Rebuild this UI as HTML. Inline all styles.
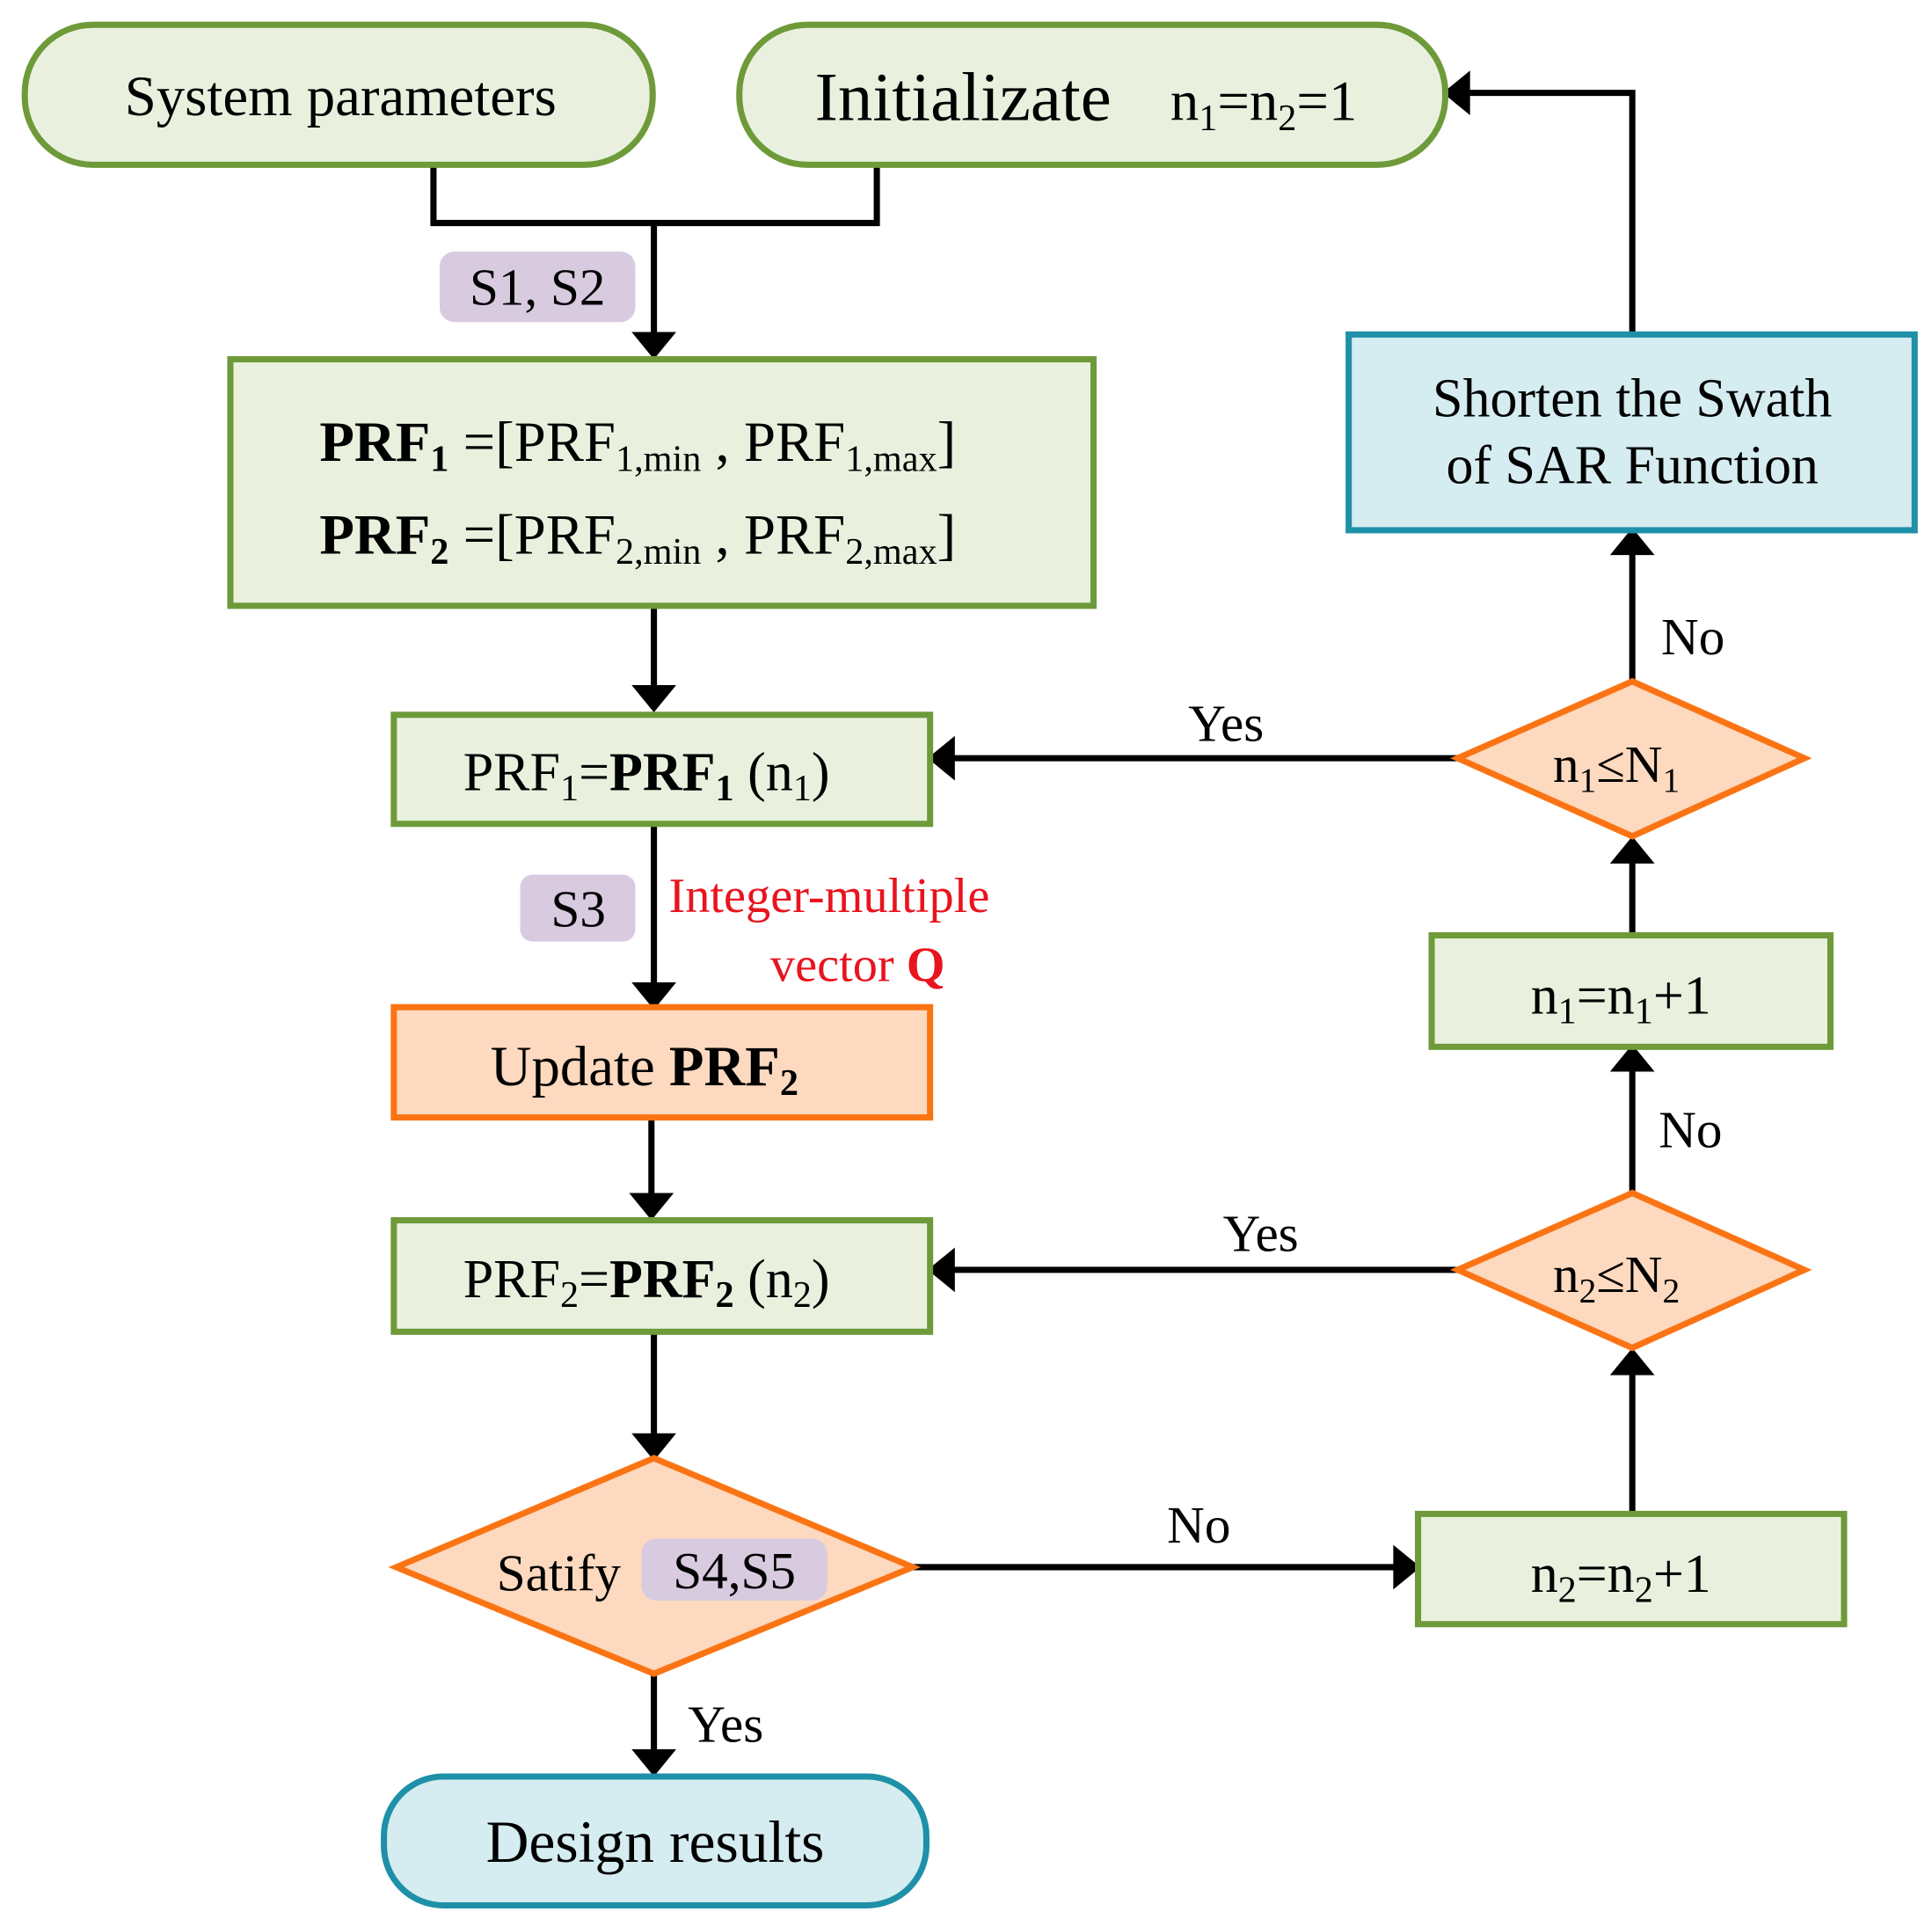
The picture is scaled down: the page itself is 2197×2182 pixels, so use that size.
<!DOCTYPE html>
<html><head><meta charset="utf-8"><style>
html,body{margin:0;padding:0;background:#fff}
svg{display:block}
text{font-family:"Liberation Serif","Times New Roman",serif;fill:#000}
</style></head><body>
<svg width="2197" height="2182" viewBox="0 0 1560 1549" preserveAspectRatio="none" xmlns="http://www.w3.org/2000/svg">
<g stroke="#000" stroke-width="5" fill="none">
<polyline points="350,133 350,180 708,180 708,133"/>
<line x1="528" y1="180" x2="528" y2="270"/>
<line x1="528" y1="489" x2="528" y2="555"/>
<line x1="528" y1="665" x2="528" y2="795"/>
<line x1="526" y1="902" x2="526" y2="965"/>
<line x1="528" y1="1075" x2="528" y2="1159"/>
<line x1="528" y1="1351" x2="528" y2="1414"/>
<line x1="737" y1="1265" x2="1127" y2="1265"/>
<line x1="1318" y1="1222" x2="1318" y2="1108"/>
<line x1="1177" y1="1025" x2="769" y2="1025"/>
<line x1="1318" y1="963" x2="1318" y2="863"/>
<line x1="1318" y1="755" x2="1318" y2="695"/>
<line x1="1177" y1="612" x2="769" y2="612"/>
<line x1="1318" y1="550" x2="1318" y2="446"/>
<polyline points="1318,270 1318,75 1185,75"/>
</g>
<g fill="#000">
<polygon points="510,268 546,268 528,290"/>
<polygon points="510,553 546,553 528,575"/>
<polygon points="510,793 546,793 528,815"/>
<polygon points="508,963 544,963 526,985"/>
<polygon points="510,1157 546,1157 528,1179"/>
<polygon points="510,1412 546,1412 528,1434"/>
<polygon points="1125,1247 1125,1283 1147,1265"/>
<polygon points="1300,1110 1336,1110 1318,1088"/>
<polygon points="771,1007 771,1043 749,1025"/>
<polygon points="1300,865 1336,865 1318,843"/>
<polygon points="1300,697 1336,697 1318,675"/>
<polygon points="771,594 771,630 749,612"/>
<polygon points="1300,448 1336,448 1318,426"/>
<polygon points="1187,57 1187,93 1165,75"/>
</g>
<g stroke-width="5">
<rect x="20" y="20" width="507" height="113" rx="55" fill="#e9f1de" stroke="#6e9a3a"/>
<rect x="597" y="20" width="570" height="113" rx="55" fill="#e9f1de" stroke="#6e9a3a"/>
<rect x="186" y="290" width="697" height="199" fill="#e9f1de" stroke="#6e9a3a"/>
<rect x="318" y="577" width="433" height="88" fill="#e9f1de" stroke="#6e9a3a"/>
<rect x="318" y="813" width="433" height="89" fill="#fdd9bf" stroke="#fb7414"/>
<rect x="318" y="985" width="433" height="90" fill="#e9f1de" stroke="#6e9a3a"/>
<polygon points="320,1265 528,1177 737,1265 528,1351" fill="#fdd9bf" stroke="#fb7414"/>
<rect x="310" y="1434" width="438" height="104" rx="48" fill="#d5ecf0" stroke="#1e90a8"/>
<rect x="1145" y="1222" width="344" height="89" fill="#e9f1de" stroke="#6e9a3a"/>
<polygon points="1177,1025 1318,963 1457,1025 1318,1088" fill="#fdd9bf" stroke="#fb7414"/>
<rect x="1156" y="755" width="322" height="90" fill="#e9f1de" stroke="#6e9a3a"/>
<polygon points="1177,612 1318,550 1457,612 1318,675" fill="#fdd9bf" stroke="#fb7414"/>
<rect x="1089" y="270" width="457" height="158" fill="#d5ecf0" stroke="#1e90a8"/>
</g>
<g fill="#d8cbe0">
<rect x="355" y="203" width="158" height="57" rx="12"/>
<rect x="420" y="706" width="93" height="54" rx="10"/>
<rect x="518" y="1242" width="150" height="50" rx="12"/>
</g>
<text x="275" y="93" font-size="46" text-anchor="middle">System parameters</text>
<text x="658" y="97" font-size="56">Initializate</text>
<text x="945" y="97" font-size="46">n<tspan font-size="30" dy="8">1</tspan><tspan dy="-8">=n</tspan><tspan font-size="30" dy="8">2</tspan><tspan dy="-8">=1</tspan></text>
<text x="434" y="246" font-size="42" text-anchor="middle">S1, S2</text>
<text x="258" y="372" font-size="46"><tspan font-weight="bold">PRF</tspan><tspan font-weight="bold" font-size="30" dy="8">1</tspan><tspan dy="-8"> =[PRF</tspan><tspan font-size="30" dy="8">1,min</tspan><tspan dy="-8"> , PRF</tspan><tspan font-size="30" dy="8">1,max</tspan><tspan dy="-8">]</tspan></text>
<text x="258" y="447" font-size="46"><tspan font-weight="bold">PRF</tspan><tspan font-weight="bold" font-size="30" dy="8">2</tspan><tspan dy="-8"> =[PRF</tspan><tspan font-size="30" dy="8">2,min</tspan><tspan dy="-8"> , PRF</tspan><tspan font-size="30" dy="8">2,max</tspan><tspan dy="-8">]</tspan></text>
<text x="374" y="638" font-size="44">PRF<tspan font-size="30" dy="8">1</tspan><tspan dy="-8">=</tspan><tspan font-weight="bold">PRF</tspan><tspan font-weight="bold" font-size="30" dy="8">1</tspan><tspan dy="-8"> (n</tspan><tspan font-size="30" dy="8">1</tspan><tspan dy="-8">)</tspan></text>
<text x="467" y="748" font-size="42" text-anchor="middle">S3</text>
<text x="540" y="736" font-size="40" style="fill:#e8141e">Integer-multiple</text>
<text x="763" y="792" font-size="40" text-anchor="end" style="fill:#e8141e">vector <tspan font-weight="bold" style="fill:#e8141e">Q</tspan></text>
<text x="396" y="876" font-size="46">Update  <tspan font-weight="bold">PRF</tspan><tspan font-weight="bold" font-size="30" dy="8">2</tspan></text>
<text x="374" y="1047" font-size="44">PRF<tspan font-size="30" dy="8">2</tspan><tspan dy="-8">=</tspan><tspan font-weight="bold">PRF</tspan><tspan font-weight="bold" font-size="30" dy="8">2</tspan><tspan dy="-8"> (n</tspan><tspan font-size="30" dy="8">2</tspan><tspan dy="-8">)</tspan></text>
<text x="401" y="1284" font-size="42">Satify</text>
<text x="593" y="1282" font-size="42" text-anchor="middle">S4,S5</text>
<text x="586" y="1406" font-size="42" text-anchor="middle">Yes</text>
<text x="529" y="1503" font-size="48" text-anchor="middle">Design results</text>
<text x="968" y="1245" font-size="42" text-anchor="middle">No</text>
<text x="1236" y="1285" font-size="44">n<tspan font-size="30" dy="8">2</tspan><tspan dy="-8">=n</tspan><tspan font-size="30" dy="8">2</tspan><tspan dy="-8">+1</tspan></text>
<text x="1254" y="1043" font-size="42">n<tspan font-size="28" dy="8">2</tspan><tspan dy="-8">≤N</tspan><tspan font-size="28" dy="8">2</tspan></text>
<text x="1018" y="1010" font-size="42" text-anchor="middle">Yes</text>
<text x="1365" y="926" font-size="42" text-anchor="middle">No</text>
<text x="1236" y="818" font-size="44">n<tspan font-size="30" dy="8">1</tspan><tspan dy="-8">=n</tspan><tspan font-size="30" dy="8">1</tspan><tspan dy="-8">+1</tspan></text>
<text x="1254" y="631" font-size="42">n<tspan font-size="28" dy="8">1</tspan><tspan dy="-8">≤N</tspan><tspan font-size="28" dy="8">1</tspan></text>
<text x="990" y="598" font-size="42" text-anchor="middle">Yes</text>
<text x="1367" y="528" font-size="42" text-anchor="middle">No</text>
<text x="1318" y="336" font-size="44" text-anchor="middle">Shorten the Swath</text>
<text x="1318" y="390" font-size="44" text-anchor="middle">of SAR Function</text>
</svg>
</body></html>
